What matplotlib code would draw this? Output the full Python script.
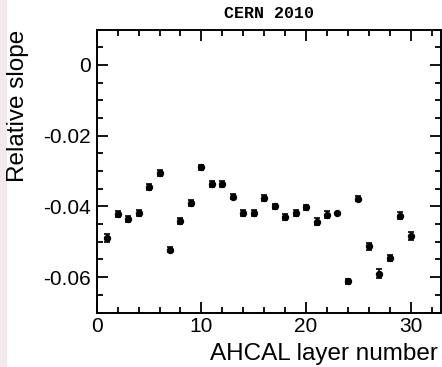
import matplotlib
matplotlib.use('Agg')
import matplotlib.pyplot as plt
from matplotlib.patches import Rectangle
from matplotlib.ticker import MultipleLocator, FuncFormatter

plt.rcParams['font.family'] = ['Liberation Sans', 'DejaVu Sans']
plt.rcParams['axes.unicode_minus'] = False

# AHCAL layer number vs relative slope
layers = list(range(1, 31))
slope = [-0.0489, -0.0421, -0.0436, -0.0418, -0.0345, -0.0305, -0.0522, -0.0441,
         -0.0390, -0.0289, -0.0336, -0.0336, -0.0373, -0.0419, -0.0419, -0.0376,
         -0.0400, -0.0430, -0.0419, -0.0403, -0.0443, -0.0423, -0.0420, -0.0612,
         -0.0378, -0.0513, -0.0590, -0.0546, -0.0426, -0.0484]
slope_err = [0.0011, 0.0008, 0.0009, 0.0008, 0.0008, 0.0008, 0.0008, 0.0009,
             0.0008, 0.0007, 0.0008, 0.0008, 0.0007, 0.0008, 0.0008, 0.0008,
             0.0008, 0.0009, 0.0008, 0.0008, 0.0009, 0.0009, 0.0000, 0.0007,
             0.0007, 0.0010, 0.0012, 0.0009, 0.0010, 0.0012]

fig = plt.figure(figsize=(4.42, 3.67), dpi=100)
fig.patches.append(Rectangle((0, 0), 6 / 442, 1, transform=fig.transFigure,
                             color='#f3e9eb', zorder=0))
ax = fig.add_axes([0.2188, 0.1485, 0.9971 - 0.2188, 0.9196 - 0.1485])

ax.errorbar(layers, slope, yerr=slope_err, fmt='o', color='k', ms=4.3,
            elinewidth=1.2, capsize=2.2, capthick=1.2)

ax.set_xlim(0, 32.86)
ax.set_ylim(-0.07, 0.01)
ax.xaxis.set_major_locator(MultipleLocator(10))
ax.xaxis.set_minor_locator(MultipleLocator(2))
ax.yaxis.set_major_locator(MultipleLocator(0.02))
ax.yaxis.set_minor_locator(MultipleLocator(0.005))
ax.yaxis.set_major_formatter(FuncFormatter(lambda v, p: '0' if abs(v) < 1e-9 else '%g' % v))

ax.tick_params(which='both', direction='in', top=True, right=True, width=1.3)
ax.tick_params(which='major', length=8, labelsize=15)
ax.tick_params(which='minor', length=4)
ax.tick_params(axis='x', pad=3)
ax.tick_params(axis='y', pad=4)
for s in ax.spines.values():
    s.set_linewidth(1.4)

fig.text(0.608, 0.964, 'CERN 2010', family='Liberation Mono', weight='bold',
         fontsize=12, ha='center', va='center')
fig.text(0.04, 0.919, 'Relative slope', rotation=90, fontsize=17.5,
         ha='center', va='top')
fig.text(0.991, 0.019, 'AHCAL layer number', fontsize=17.5,
         ha='right', va='baseline')

fig.savefig('out.png', dpi=100)
